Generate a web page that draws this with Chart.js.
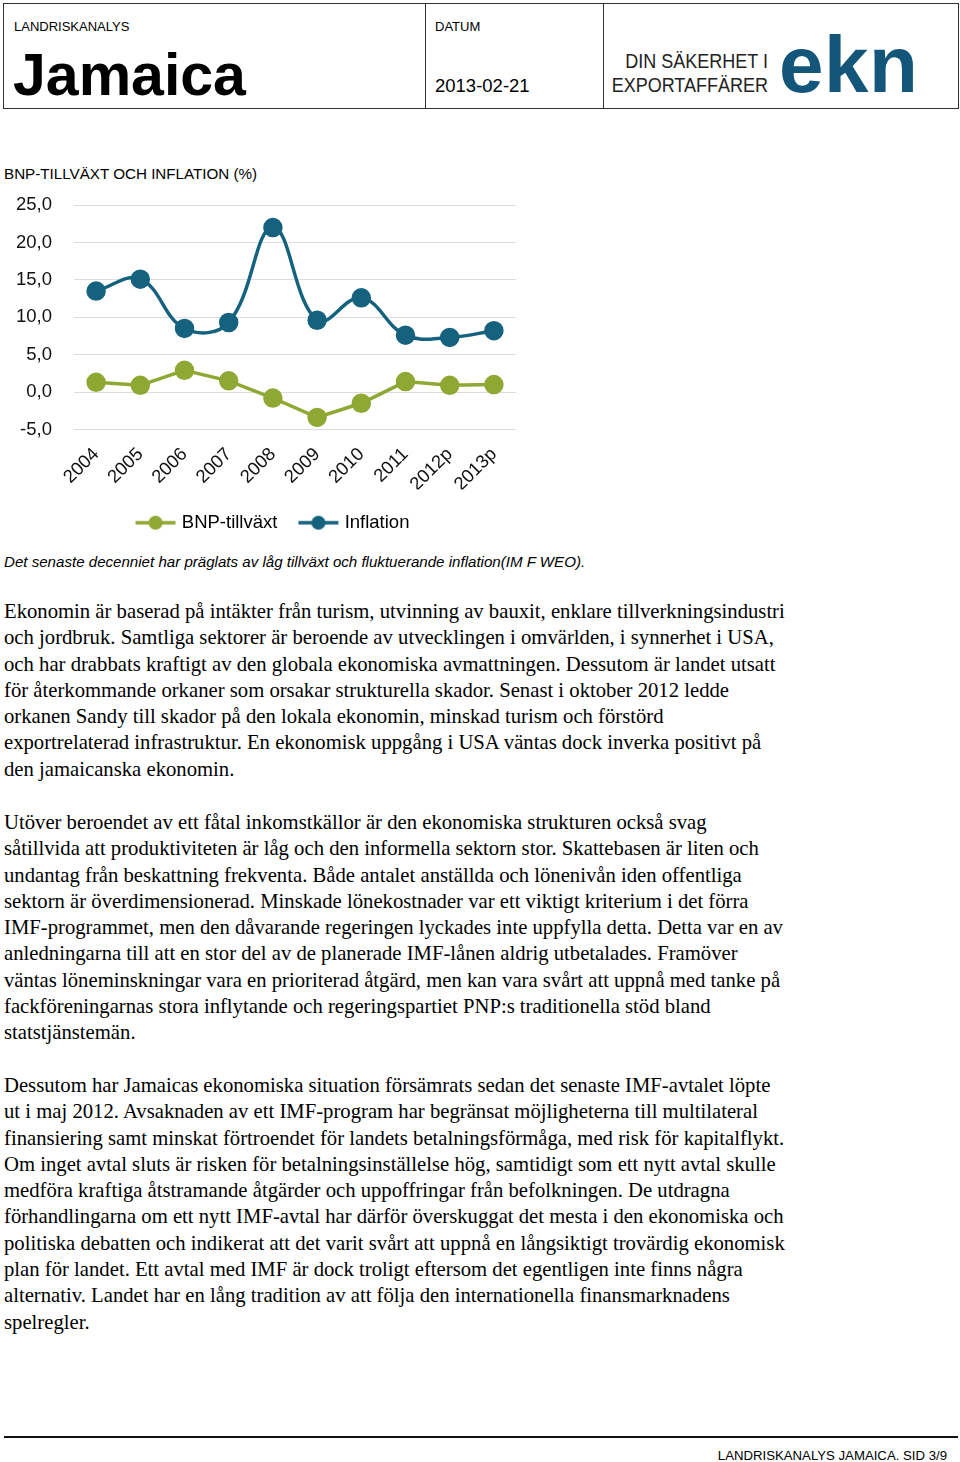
<!DOCTYPE html>
<html lang="sv">
<head>
<meta charset="utf-8">
<title>Landriskanalys Jamaica</title>
<script src="https://cdn.jsdelivr.net/npm/chart.js@4.4.1/dist/chart.umd.min.js"></script>
<style>
    body { margin: 0; width: 960px; height: 1462px; position: relative; background: #fff; font-family: "Liberation Sans", Arial, sans-serif; color: #000; }
    .abs { position: absolute; white-space: nowrap; }
    .cell { position: absolute; top: 3px; height: 106px; border: 1px solid #333; box-sizing: border-box; }
    .brodtext { position: absolute; left: 4px; font-family: "Liberation Serif", "Times New Roman", serif; font-size: 20.7px; line-height: 26.3px; white-space: nowrap; }
</style>
</head>
<body>

<!-- sidhuvud -->
<div class="cell" style="left:3px; width:423px;"></div>
<div class="cell" style="left:425px; width:179px; border-left:none;"></div>
<div class="cell" style="left:603px; width:356px; border-left:none;"></div>
<div class="abs" style="left:14px; top:19px; font-size:13px;">LANDRISKANALYS</div>
<div class="abs" style="left:13px; top:42px; font-size:59px; font-weight:bold; line-height:66px;">Jamaica</div>
<div class="abs" style="left:435px; top:19px; font-size:13px;">DATUM</div>
<div class="abs" style="left:435px; top:75px; font-size:18.5px;">2013-02-21</div>
<div class="abs" style="left:568px; width:200px; text-align:right; top:49px; font-size:20px; line-height:24px; color:#222; transform:scaleX(0.9); transform-origin:right top;">DIN SÄKERHET I<br>EXPORTAFFÄRER</div>
<div class="abs" style="left:779px; top:25px; font-size:80px; font-weight:bold; letter-spacing:0.5px; line-height:1; color:#13567a;">ekn</div>

<!-- diagram -->
<div class="abs" style="left:4px; top:165px; font-size:15.2px;">BNP-TILLVÄXT OCH INFLATION (%)</div>
<div style="position:absolute; left:0; top:172px; width:544px; height:370px;">
    <canvas id="grafico"></canvas>
</div>
<div class="abs" style="left:4px; top:553px; font-size:15.1px; font-style:italic;">Det senaste decenniet har präglats av låg tillväxt och fluktuerande inflation(IM F WEO).</div>

<!-- brödtext -->
<div class="brodtext" style="top:598px;">
Ekonomin är baserad på intäkter från turism, utvinning av bauxit, enklare tillverkningsindustri<br>
och jordbruk. Samtliga sektorer är beroende av utvecklingen i omvärlden, i synnerhet i USA,<br>
och har drabbats kraftigt av den globala ekonomiska avmattningen. Dessutom är landet utsatt<br>
för återkommande orkaner som orsakar strukturella skador. Senast i oktober 2012 ledde<br>
orkanen Sandy till skador på den lokala ekonomin, minskad turism och förstörd<br>
exportrelaterad infrastruktur. En ekonomisk uppgång i USA väntas dock inverka positivt på<br>
den jamaicanska ekonomin.
</div>
<div class="brodtext" style="top:809px;">
Utöver beroendet av ett fåtal inkomstkällor är den ekonomiska strukturen också svag<br>
såtillvida att produktiviteten är låg och den informella sektorn stor. Skattebasen är liten och<br>
undantag från beskattning frekventa. Både antalet anställda och lönenivån iden offentliga<br>
sektorn är överdimensionerad. Minskade lönekostnader var ett viktigt kriterium i det förra<br>
IMF-programmet, men den dåvarande regeringen lyckades inte uppfylla detta. Detta var en av<br>
anledningarna till att en stor del av de planerade IMF-lånen aldrig utbetalades. Framöver<br>
väntas löneminskningar vara en prioriterad åtgärd, men kan vara svårt att uppnå med tanke på<br>
fackföreningarnas stora inflytande och regeringspartiet PNP:s traditionella stöd bland<br>
statstjänstemän.
</div>
<div class="brodtext" style="top:1072px;">
Dessutom har Jamaicas ekonomiska situation försämrats sedan det senaste IMF-avtalet löpte<br>
ut i maj 2012. Avsaknaden av ett IMF-program har begränsat möjligheterna till multilateral<br>
finansiering samt minskat förtroendet för landets betalningsförmåga, med risk för kapitalflykt.<br>
Om inget avtal sluts är risken för betalningsinställelse hög, samtidigt som ett nytt avtal skulle<br>
medföra kraftiga åtstramande åtgärder och uppoffringar från befolkningen. De utdragna<br>
förhandlingarna om ett nytt IMF-avtal har därför överskuggat det mesta i den ekonomiska och<br>
politiska debatten och indikerat att det varit svårt att uppnå en långsiktigt trovärdig ekonomisk<br>
plan för landet. Ett avtal med IMF är dock troligt eftersom det egentligen inte finns några<br>
alternativ. Landet har en lång tradition av att följa den internationella finansmarknadens<br>
spelregler.
</div>

<!-- sidfot -->
<div style="position:absolute; left:4px; top:1436px; width:954px; height:2px; background:#111;"></div>
<div class="abs" style="left:600px; width:347px; text-align:right; top:1448px; font-size:13.2px;">LANDRISKANALYS JAMAICA. SID 3/9</div>

<script>
// datos del gráfico
const anios = ['2004', '2005', '2006', '2007', '2008', '2009', '2010', '2011', '2012p', '2013p'];
const bnpTillvaxt = [1.3, 0.9, 2.9, 1.5, -0.8, -3.4, -1.5, 1.4, 0.9, 1.0];
const inflation = [13.5, 15.1, 8.5, 9.3, 22.0, 9.6, 12.6, 7.6, 7.3, 8.2];
const yEtiquetas = ['-5,0', '0,0', '5,0', '10,0', '15,0', '20,0', '25,0'];
const nombresSeries = ['BNP-tillväxt', 'Inflation'];

const colorVerde = '#8fa834';
const colorAzul = '#15627f';

// marcador de la leyenda: línea con círculo
function crearMarcador(color) {
    const c = document.createElement('canvas');
    c.width = 44;
    c.height = 16;
    const ctx = c.getContext('2d');
    ctx.strokeStyle = color;
    ctx.lineWidth = 3.5;
    ctx.beginPath();
    ctx.moveTo(2, 8);
    ctx.lineTo(42, 8);
    ctx.stroke();
    ctx.fillStyle = color;
    ctx.beginPath();
    ctx.arc(22, 8, 7, 0, Math.PI * 2);
    ctx.fill();
    return c;
}
const marcadores = [crearMarcador(colorVerde), crearMarcador(colorAzul)];

// corre la leyenda un poco a la derecha, como en el original
const moverLeyenda = {
    id: 'moverLeyenda',
    afterLayout: function (chart) {
        chart.legend.left += 8;
        chart.legend.right += 8;
    }
};

Chart.defaults.font.family = '"Liberation Sans", Arial, sans-serif';
Chart.defaults.color = '#111';

new Chart(document.getElementById('grafico').getContext('2d'), {
    type: 'line',
    data: {
        labels: anios,
        datasets: [{
            label: nombresSeries[0],
            data: bnpTillvaxt,
            borderColor: colorVerde,
            backgroundColor: colorVerde,
            borderWidth: 3.5,
            pointRadius: 8,
            tension: 0
        }, {
            label: nombresSeries[1],
            data: inflation,
            borderColor: colorAzul,
            backgroundColor: colorAzul,
            borderWidth: 3.5,
            pointRadius: 8,
            tension: 0.4
        }]
    },
    plugins: [moverLeyenda],
    options: {
        responsive: true,
        maintainAspectRatio: false,
        animation: false,
        layout: { padding: { left: 16, right: 28, top: 0, bottom: 0 } },
        plugins: {
            tooltip: { enabled: false },
            legend: {
                position: 'bottom',
                labels: {
                    usePointStyle: true,
                    pointStyleWidth: 34,
                    padding: 24,
                    font: { size: 18.5 },
                    color: '#000',
                    generateLabels: function (chart) {
                        const items = Chart.defaults.plugins.legend.labels.generateLabels(chart);
                        items.forEach((it, i) => { it.pointStyle = marcadores[i]; });
                        return items;
                    }
                }
            }
        },
        scales: {
            x: {
                offset: true,
                afterFit: function (scale) { scale.height -= 12; },
                grid: { display: false },
                border: { display: false },
                ticks: {
                    minRotation: 45,
                    maxRotation: 45,
                    padding: 6,
                    font: { size: 18.5 },
                    color: '#111'
                }
            },
            y: {
                min: -5,
                max: 25,
                afterFit: function (scale) { scale.width = 58; },
                grid: { color: '#dcdcdc', lineWidth: 1, drawTicks: false },
                border: { display: false },
                ticks: {
                    stepSize: 5,
                    padding: 22,
                    font: { size: 18.5 },
                    color: '#111',
                    callback: function (v) { return yEtiquetas[(v + 5) / 5]; }
                }
            }
        }
    }
});
</script>
</body>
</html>
